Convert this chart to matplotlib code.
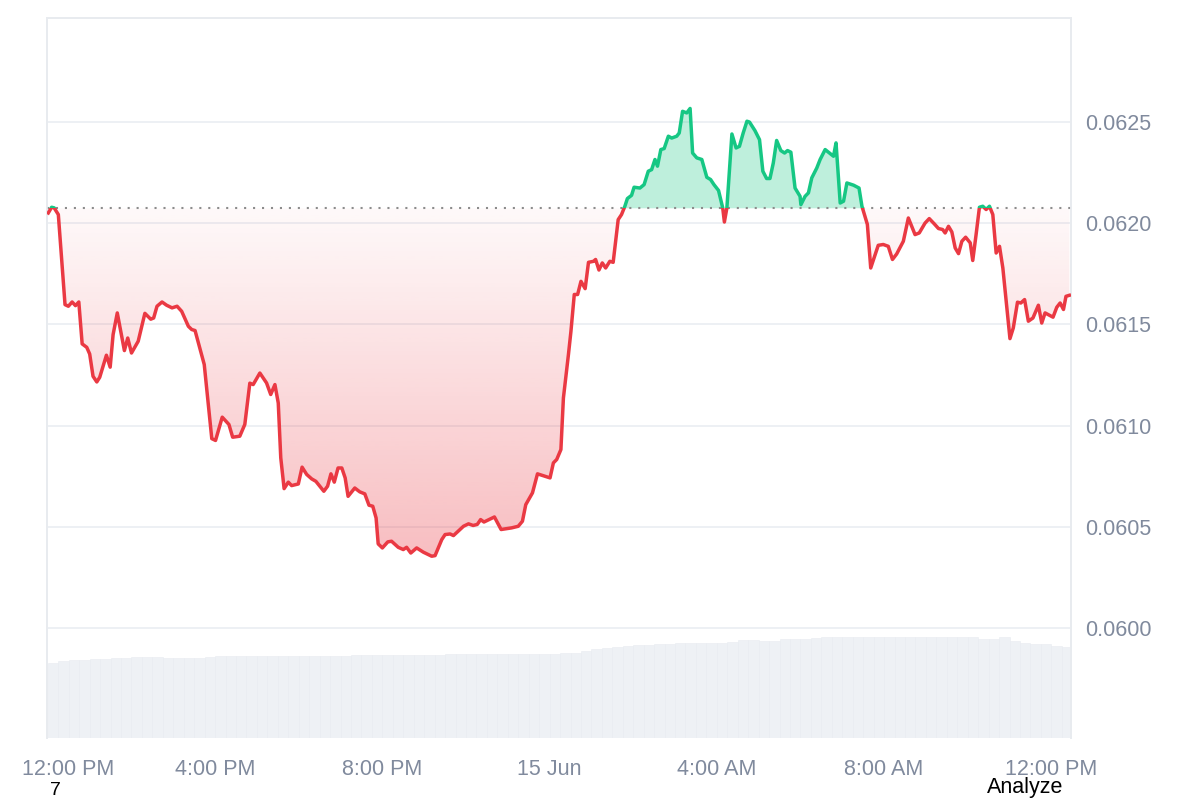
import numpy as np
import matplotlib
matplotlib.use("Agg")
import matplotlib.pyplot as plt
import matplotlib.transforms as mtrans
from matplotlib.patches import Polygon, Rectangle
from matplotlib.colors import to_rgb

plt.rcParams['font.family'] = ['Liberation Sans', 'DejaVu Sans']

# price series, hours after 12:00 PM (14 Jun)
hours = [0.01, 0.09, 0.15, 0.25, 0.41, 0.49, 0.58, 0.66, 0.74, 0.82, 0.93, 1.00,
         1.08, 1.17, 1.24, 1.40, 1.49, 1.56, 1.66, 1.83, 1.91, 2.00, 2.16, 2.32,
         2.46, 2.53, 2.61, 2.73, 2.84, 2.97, 3.09, 3.20, 3.36, 3.44, 3.52, 3.74,
         3.92, 4.01, 4.17, 4.33, 4.42, 4.59, 4.71, 4.83, 4.91, 5.07, 5.23, 5.33,
         5.43, 5.51, 5.57, 5.65, 5.75, 5.83, 5.99, 6.08, 6.19, 6.31, 6.41, 6.60,
         6.69, 6.77, 6.85, 6.94, 7.03, 7.11, 7.18, 7.34, 7.46, 7.58, 7.68, 7.77,
         7.85, 7.90, 8.00, 8.13, 8.22, 8.38, 8.50, 8.58, 8.68, 8.82, 8.98, 9.18,
         9.26, 9.42, 9.50, 9.62, 9.70, 9.94, 10.06, 10.17, 10.27, 10.35, 10.43, 10.68,
         10.84, 11.09, 11.25, 11.35, 11.43, 11.59, 11.71, 11.89, 12.01, 12.09, 12.17, 12.27,
         12.33, 12.45, 12.51, 12.59, 12.67, 12.75, 12.85, 12.93, 13.05, 13.10, 13.18, 13.26,
         13.34, 13.44, 13.52, 13.64, 13.72, 13.80, 13.86, 13.96, 14.02, 14.16, 14.26, 14.36,
         14.44, 14.52, 14.58, 14.66, 14.74, 14.84, 14.92, 15.04, 15.10, 15.18, 15.28, 15.36,
         15.42, 15.52, 15.64, 15.76, 15.85, 15.93, 16.04, 16.14, 16.18, 16.24, 16.36, 16.46,
         16.54, 16.63, 16.72, 16.78, 16.91, 17.02, 17.10, 17.19, 17.27, 17.35, 17.43, 17.53,
         17.62, 17.69, 17.77, 17.87, 17.99, 18.01, 18.11, 18.19, 18.27, 18.39, 18.47, 18.59,
         18.71, 18.79, 18.85, 18.95, 19.03, 19.11, 19.27, 19.40, 19.47, 19.60, 19.68, 19.76,
         19.86, 19.98, 20.10, 20.20, 20.30, 20.46, 20.58, 20.74, 20.84, 20.98, 21.08, 21.20,
         21.30, 21.40, 21.46, 21.54, 21.62, 21.70, 21.78, 21.86, 21.95, 22.06, 22.12, 22.20,
         22.28, 22.36, 22.44, 22.52, 22.60, 22.68, 22.76, 22.84, 23.01, 23.09, 23.19, 23.27,
         23.36, 23.45, 23.56, 23.69, 23.77, 23.85, 24.04, 24.13, 24.21, 24.29, 24.35, 24.43]

price = [0.062051, 0.062079, 0.062076, 0.062043, 0.061598, 0.061590, 0.061611, 0.061593,
         0.061611, 0.061404, 0.061387, 0.061354, 0.061244, 0.061216, 0.061239, 0.061348,
         0.061289, 0.061450, 0.061557, 0.061371, 0.061433, 0.061359, 0.061417, 0.061555,
         0.061526, 0.061532, 0.061590, 0.061611, 0.061595, 0.061582, 0.061590, 0.061565,
         0.061491, 0.061475, 0.061470, 0.061302, 0.060936, 0.060927, 0.061042, 0.061006,
         0.060943, 0.060948, 0.061006, 0.061210, 0.061203, 0.061260, 0.061211, 0.061154,
         0.061203, 0.061112, 0.060841, 0.060689, 0.060721, 0.060704, 0.060712, 0.060795,
         0.060759, 0.060737, 0.060725, 0.060676, 0.060701, 0.060762, 0.060721, 0.060791,
         0.060791, 0.060742, 0.060651, 0.060692, 0.060673, 0.060663, 0.060607, 0.060602,
         0.060544, 0.060416, 0.060396, 0.060426, 0.060429, 0.060399, 0.060388, 0.060399,
         0.060371, 0.060396, 0.060375, 0.060355, 0.060358, 0.060437, 0.060462, 0.060465,
         0.060457, 0.060503, 0.060515, 0.060507, 0.060512, 0.060536, 0.060524, 0.060549,
         0.060487, 0.060495, 0.060503, 0.060528, 0.060610, 0.060668, 0.060762, 0.060750,
         0.060742, 0.060816, 0.060833, 0.060882, 0.061137, 0.061351, 0.061466, 0.061648,
         0.061648, 0.061713, 0.061677, 0.061807, 0.061812, 0.061821, 0.061769, 0.061804,
         0.061779, 0.061812, 0.061807, 0.062018, 0.062043, 0.062084, 0.062122, 0.062138,
         0.062178, 0.062174, 0.062191, 0.062257, 0.062265, 0.062315, 0.062282, 0.062364,
         0.062369, 0.062430, 0.062421, 0.062430, 0.062446, 0.062553, 0.062545, 0.062567,
         0.062347, 0.062323, 0.062315, 0.062227, 0.062216, 0.062191, 0.062162, 0.062076,
         0.062006, 0.062076, 0.062441, 0.062372, 0.062380, 0.062446, 0.062504, 0.062500,
         0.062458, 0.062413, 0.062257, 0.062221, 0.062221, 0.062298, 0.062409, 0.062359,
         0.062347, 0.062359, 0.062351, 0.062174, 0.062133, 0.062092, 0.062133, 0.062150,
         0.062224, 0.062273, 0.062315, 0.062364, 0.062344, 0.062331, 0.062397, 0.062100,
         0.062109, 0.062199, 0.062188, 0.062174, 0.062084, 0.061994, 0.061779, 0.061829,
         0.061891, 0.061895, 0.061886, 0.061821, 0.061848, 0.061911, 0.062026, 0.061944,
         0.061952, 0.062001, 0.062023, 0.061997, 0.061974, 0.061969, 0.061952, 0.061985,
         0.061957, 0.061878, 0.061850, 0.061911, 0.061931, 0.061903, 0.061816, 0.061944,
         0.062079, 0.062084, 0.062068, 0.062084, 0.062043, 0.061853, 0.061886, 0.061779,
         0.061430, 0.061483, 0.061610, 0.061606, 0.061623, 0.061516, 0.061532, 0.061595,
         0.061507, 0.061557, 0.061536, 0.061585, 0.061606, 0.061574, 0.061639, 0.061644]

base_price = 0.062074

# volume, one value per 15 minutes
volume = [7.50, 7.70, 7.80, 7.85, 7.90, 7.95, 8.00, 8.05, 8.15, 8.10, 8.10, 8.05,
          8.05, 8.05, 8.05, 8.10, 8.20, 8.20, 8.20, 8.20, 8.20, 8.20, 8.20, 8.25,
          8.25, 8.25, 8.20, 8.20, 8.25, 8.30, 8.30, 8.30, 8.30, 8.30, 8.30, 8.35,
          8.35, 8.35, 8.40, 8.40, 8.40, 8.40, 8.40, 8.40, 8.40, 8.40, 8.40, 8.40,
          8.45, 8.50, 8.55, 8.70, 8.90, 9.05, 9.15, 9.25, 9.30, 9.35, 9.40, 9.45,
          9.50, 9.50, 9.55, 9.55, 9.55, 9.60, 9.85, 9.85, 9.75, 9.75, 9.95, 9.95,
          9.95, 10.05, 10.10, 10.10, 10.10, 10.10, 10.15, 10.15, 10.15, 10.15, 10.15, 10.15,
          10.15, 10.15, 10.15, 10.15, 10.10, 9.95, 9.95, 10.10, 9.75, 9.50, 9.40, 9.40,
          9.25, 9.15]

tick_hours = [0, 4, 8, 12, 16, 20, 24]
tick_labels = ['12:00 PM', '4:00 PM', '8:00 PM', '15 Jun', '4:00 AM', '8:00 AM', '12:00 PM']
price_ticks = [0.0600, 0.0605, 0.0610, 0.0615, 0.0620, 0.0625]

red = '#ea3943'
green = '#16c784'
grey_txt = '#808a9d'
grid_c = '#eceff3'

t = np.array(hours)
p = np.array(price)
x_lo, x_hi = -0.02, 24.47
y_lo, y_hi = 0.059457, 0.063014

fig = plt.figure(figsize=(12, 8), dpi=100)
ax_vol = fig.add_axes([0.0392, 0.0775, 0.8533, 0.9])
ax = ax_vol.twinx()

# volume bars
vol_x = np.arange(len(volume)) * 0.25
ax_vol.bar(vol_x, volume, width=0.25, align='edge', color='#eef1f5',
           edgecolor='#e8ecf1', linewidth=0.4, zorder=1)
ax_vol.set_ylim(0, 72)
ax_vol.set_yticks([])
ax_vol.set_xlim(x_lo, x_hi)
ax_vol.set_xticks(tick_hours)
ax_vol.set_xticklabels(tick_labels, fontsize=15.5, color=grey_txt)
ax_vol.tick_params(axis='x', length=0, pad=15)
first = ax_vol.get_xticklabels()[0]
first.set_transform(first.get_transform() + mtrans.ScaledTranslation(0.2, 0, fig.dpi_scale_trans))

ax.set_ylim(y_lo, y_hi)
ax.set_xlim(x_lo, x_hi)
ax.set_yticks(price_ticks)
ax.set_yticklabels(['%.4f' % v for v in price_ticks], fontsize=15.5, color=grey_txt)
ax.tick_params(axis='y', length=0, pad=10)
ax.grid(axis='y', color=grid_c, linewidth=1.3, zorder=0)
ax.set_axisbelow(True)

for a in (ax, ax_vol):
    for side in ('left', 'right', 'top'):
        a.spines[side].set_color('#e8ebef')
        a.spines[side].set_linewidth(1.2)
    a.spines['bottom'].set_visible(False)

# red gradient under the baseline
rgb = to_rgb(red)
grad = np.zeros((256, 1, 4))
grad[..., :3] = rgb
grad[..., 3] = np.linspace(0.33, 0.03, 256).reshape(-1, 1)
im = ax.imshow(grad, extent=[x_lo, x_hi, p.min(), base_price], origin='lower',
               aspect='auto', zorder=1, interpolation='bilinear')
clip_verts = [(t[0], base_price)] + list(zip(t, np.minimum(p, base_price))) + [(t[-1], base_price)]
clip_poly = Polygon(clip_verts, closed=True, transform=ax.transData)
im.set_clip_path(clip_poly)

# green fill above the baseline
ax.fill_between(t, p, base_price, where=p >= base_price, interpolate=True,
                color=green, alpha=0.28, linewidth=0, zorder=1)

ax.axhline(base_price, color='#8c8c8c', linewidth=1.5, linestyle=(0, (1, 3.3)), zorder=2)

# line coloured by side of baseline
below = Rectangle((x_lo, y_lo), x_hi - x_lo, base_price - y_lo, transform=ax.transData)
above = Rectangle((x_lo, base_price), x_hi - x_lo, y_hi - base_price, transform=ax.transData)
ln_r, = ax.plot(t, p, color=red, linewidth=2.5, zorder=3, solid_joinstyle='round')
ln_r.set_clip_path(below)
ln_g, = ax.plot(t, p, color=green, linewidth=2.5, zorder=3, solid_joinstyle='round')
ln_g.set_clip_path(above)

fig.text(55 / 1200, 1 - 782 / 800, '7', fontsize=14, color='black', ha='center', va='top')
fig.text(1025 / 1200, 1 - 788 / 800, 'Analyze', fontsize=15.5, color='black', ha='center', va='center')

fig.savefig('out.png', dpi=100, facecolor='white')
